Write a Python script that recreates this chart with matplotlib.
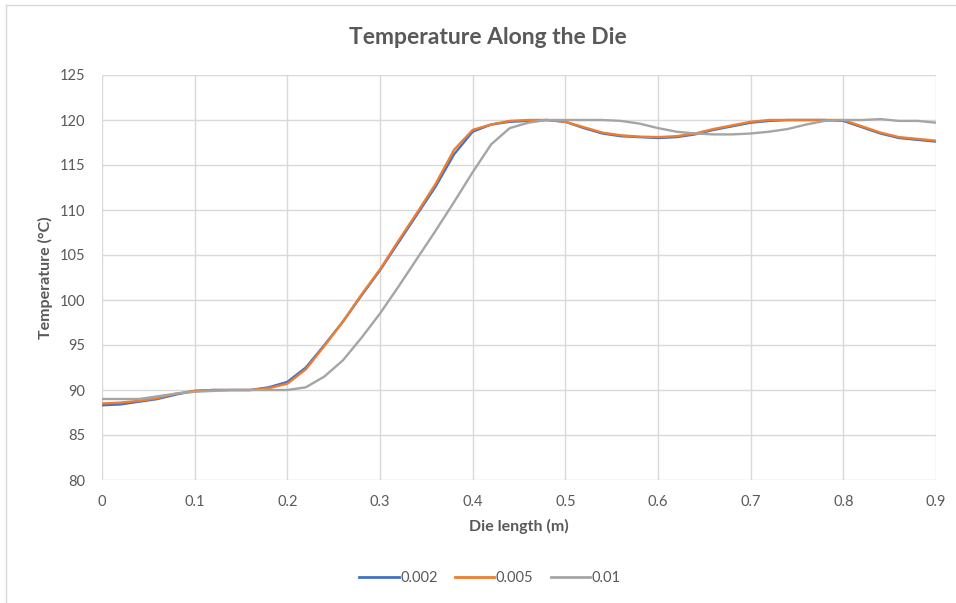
import numpy as np
import matplotlib
matplotlib.use("Agg")
import matplotlib.pyplot as plt
from matplotlib.lines import Line2D

plt.rcParams['font.family'] = ['Lato', 'DejaVu Sans']

# die length positions (m)
die_length = [0.00, 0.02, 0.04, 0.06, 0.08, 0.10, 0.12, 0.14, 0.16, 0.18,
              0.20, 0.22, 0.24, 0.26, 0.28, 0.30, 0.32, 0.34, 0.36, 0.38,
              0.40, 0.42, 0.44, 0.46, 0.48, 0.50, 0.52, 0.54, 0.56, 0.58,
              0.60, 0.62, 0.64, 0.66, 0.68, 0.70, 0.72, 0.74, 0.76, 0.78,
              0.80, 0.82, 0.84, 0.86, 0.88, 0.90]

temp_0002 = [88.3, 88.4, 88.7, 89.0, 89.5, 89.9, 90.0, 90.0, 90.0, 90.3,
             90.9, 92.5, 95.0, 97.6, 100.5, 103.3, 106.4, 109.5, 112.6, 116.2,
             118.7, 119.5, 119.8, 119.9, 120.0, 119.8, 119.1, 118.5, 118.2, 118.1,
             118.0, 118.1, 118.4, 118.9, 119.3, 119.7, 119.9, 120.0, 120.0, 120.0,
             119.9, 119.2, 118.5, 118.0, 117.8, 117.6]

temp_0005 = [88.5, 88.6, 88.8, 89.1, 89.6, 89.9, 90.0, 90.0, 90.0, 90.2,
             90.7, 92.3, 94.9, 97.6, 100.6, 103.4, 106.6, 109.7, 112.9, 116.7,
             118.9, 119.5, 119.9, 120.0, 120.0, 119.8, 119.2, 118.6, 118.3, 118.15,
             118.1, 118.2, 118.5, 119.0, 119.4, 119.8, 120.0, 120.0, 120.0, 120.0,
             120.0, 119.3, 118.6, 118.1, 117.9, 117.7]

temp_001 = [89.0, 89.0, 89.0, 89.3, 89.6, 89.8, 89.9, 90.0, 90.0, 90.0,
            90.0, 90.3, 91.5, 93.3, 95.8, 98.5, 101.5, 104.6, 107.7, 110.9,
            114.2, 117.3, 119.1, 119.7, 120.0, 120.0, 120.0, 120.0, 119.9, 119.6,
            119.1, 118.7, 118.5, 118.4, 118.4, 118.5, 118.7, 119.0, 119.5, 119.9,
            120.0, 120.0, 120.1, 119.9, 119.9, 119.7]

series_names = ['0.002', '0.005', '0.01']
series_colors = ['#4472C4', '#ED7D31', '#A5A5A5']

x_ticks = [0, 0.1, 0.2, 0.3, 0.4, 0.5, 0.6, 0.7, 0.8, 0.9]
x_tick_labels = ['0', '0.1', '0.2', '0.3', '0.4', '0.5', '0.6', '0.7', '0.8', '0.9']
y_ticks = [80, 85, 90, 95, 100, 105, 110, 115, 120, 125]

txt = '#595959'
W, H = 956, 603
fig = plt.figure(figsize=(9.56, 6.03), dpi=100)
ax = fig.add_axes([102 / W, 1 - 480 / H, (936 - 102) / W, (480 - 75) / H])

for vals, name, col in zip([temp_0002, temp_0005, temp_001], series_names, series_colors):
    ax.plot(die_length, vals, color=col, lw=1.7, label=name)

ax.set_xlim(0, 0.9)
ax.set_ylim(80, 125)
ax.set_xticks(x_ticks)
ax.set_xticklabels(x_tick_labels)
ax.set_yticks(y_ticks)
ax.grid(True, color='#d9d9d9', lw=1)
ax.set_axisbelow(True)
for s in ax.spines.values():
    s.set_visible(False)
ax.tick_params(length=0, labelsize=10.5, labelcolor=txt)
ax.tick_params(axis='x', pad=11)
ax.tick_params(axis='y', pad=12)

ax.set_xlabel('Die length (m)', fontsize=11.5, fontweight='bold', color=txt, va='center')
ax.set_ylabel('Temperature (°C)', fontsize=11.5, fontweight='bold', color=txt, va='center')
ax.xaxis.set_label_coords(0.5, (480 - 526) / 405)
ax.yaxis.set_label_coords((45 - 102) / 834, 0.5)

fig.text(488 / W, 1 - 38 / H, 'Temperature Along the Die', ha='center', va='center',
         fontsize=16.5, fontweight='bold', color=txt)

handles = [Line2D([], [], color=c, lw=2) for c in series_colors]
fig.legend(handles, series_names, loc='center', bbox_to_anchor=(490 / W, 1 - 578 / H),
           ncol=3, frameon=False, fontsize=10.5, labelcolor=txt, handlelength=2.7,
           handletextpad=0.1, columnspacing=1.2)

# chart area border
fig.add_artist(Line2D([6 / W, 1], [1 - 5 / H, 1 - 5 / H], color='#d9d9d9', lw=1))
fig.add_artist(Line2D([6 / W, 6 / W], [0, 1 - 5 / H], color='#d9d9d9', lw=1))

fig.savefig('out.png', dpi=100, facecolor='white')
